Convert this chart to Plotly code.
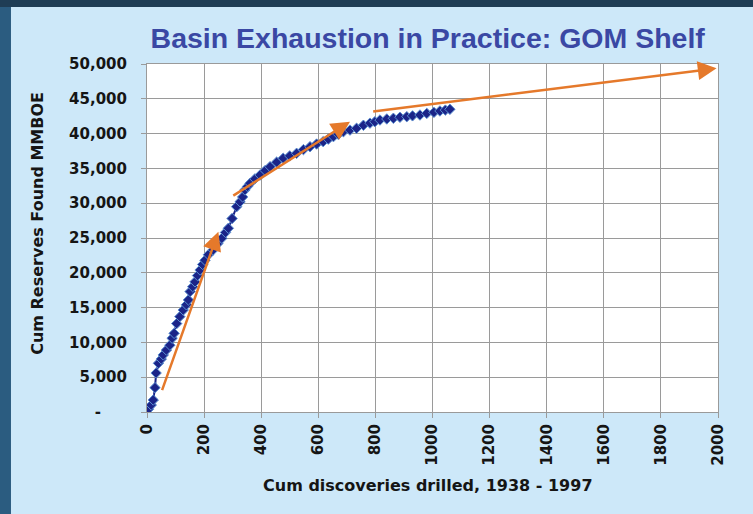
import plotly.graph_objects as go

# Cumulative discoveries drilled vs cumulative reserves found (MMBOE)
cum_wells = [
    5, 15, 22, 28, 32, 40, 50, 57, 68, 80,
    88, 95, 104, 115, 127, 138, 145, 151, 160, 168,
    177, 186, 195, 203, 215, 232, 248, 262, 275, 285,
    298, 314, 326, 335, 343, 352, 361, 378, 396, 414,
    431, 454, 477, 500, 524, 548, 571, 594, 617, 635,
    653, 670, 688, 711, 734, 758, 781, 798, 816, 840,
    863, 886, 910, 930, 956, 980, 1005, 1026, 1045, 1061,
]
cum_reserves = [
    390, 1000, 1720, 3500, 5600, 7000, 7600, 8200, 8900, 9600,
    10600, 11300, 12700, 13700, 14650, 15400, 16100, 17300, 18000, 18700,
    19600, 20400, 21200, 21800, 22600, 23300, 24200, 24950, 25800, 26400,
    27800, 29500, 30200, 30900, 31900, 32400, 32860, 33500, 34050, 34700,
    35250, 35900, 36450, 36800, 37170, 37700, 38120, 38500, 38840, 39200,
    39560, 39900, 40270, 40500, 40760, 41200, 41500, 41700, 41950, 42100,
    42200, 42350, 42430, 42550, 42670, 42900, 43050, 43250, 43380, 43490,
]

# Trend arrows: (start x, start y, end x, end y)
trend_arrows = [
    (51, 2920, 250, 25900),
    (297, 30950, 711, 41710),
    (787, 43150, 1995, 49380),
]

x_ticks = [0, 200, 400, 600, 800, 1000, 1200, 1400, 1600, 1800, 2000]
y_ticks = [0, 5000, 10000, 15000, 20000, 25000, 30000, 35000, 40000, 45000, 50000]
y_tick_text = ["-" + "\u00a0" * 5] + [f"{v:,}" for v in y_ticks[1:]]

BG_COLOR = "#cde8f9"
FRAME_COLOR = "#2b5c80"
ORANGE = "#e5792b"
NAVY = "#1b2488"
GRID = "#9a9a9a"
TICK_FONT = dict(family="DejaVu Sans", size=15, color="#151515", weight="bold")

fig = go.Figure()

fig.add_trace(
    go.Scatter(
        x=cum_wells,
        y=cum_reserves,
        mode="lines+markers",
        line=dict(color=NAVY, width=2),
        marker=dict(
            symbol="diamond",
            size=8,
            color=NAVY,
            line=dict(color="#5b8fd0", width=1),
        ),
        showlegend=False,
    )
)

for x0, y0, x1, y1 in trend_arrows:
    fig.add_annotation(
        x=x1,
        y=y1,
        ax=x0,
        ay=y0,
        xref="x",
        yref="y",
        axref="x",
        ayref="y",
        showarrow=True,
        arrowhead=2,
        arrowsize=1.5,
        arrowwidth=2.5,
        arrowcolor=ORANGE,
        text="",
    )

# Axis titles placed as annotations
fig.add_annotation(
    xref="paper",
    yref="paper",
    x=-0.193,
    y=0.543,
    xanchor="center",
    yanchor="middle",
    text="Cum Reserves Found MMBOE",
    textangle=-90,
    showarrow=False,
    font=dict(family="DejaVu Sans", size=16, color="#151515", weight="bold"),
)
fig.add_annotation(
    xref="paper",
    yref="paper",
    x=0.492,
    y=-0.21,
    xanchor="center",
    yanchor="middle",
    text="Cum discoveries drilled, 1938 - 1997",
    showarrow=False,
    font=dict(family="DejaVu Sans", size=16, color="#151515", weight="bold"),
)

# Dark frame strips on the left and top edges
fig.add_shape(
    type="rect", xref="paper", yref="paper",
    x0=-0.26, x1=-0.2382, y0=-0.3, y1=1.19,
    fillcolor=FRAME_COLOR, line=dict(width=0), layer="below",
)
fig.add_shape(
    type="rect", xref="paper", yref="paper",
    x0=-0.26, x1=1.07, y0=1.1638, y1=1.19,
    fillcolor="#1f3d55", line=dict(width=0), layer="below",
)

fig.update_layout(
    width=753,
    height=514,
    paper_bgcolor=BG_COLOR,
    plot_bgcolor="#ffffff",
    margin=dict(l=147, r=35, t=64, b=102),
    title=dict(
        text="<b>Basin Exhaustion in Practice: GOM Shelf</b>",
        x=0.568,
        y=0.926,
        xanchor="center",
        yanchor="middle",
        font=dict(family="Liberation Sans", size=28.5, color="#3a48a4"),
    ),
    xaxis=dict(
        range=[0, 2000],
        tickvals=x_ticks,
        ticktext=[str(v) for v in x_ticks],
        tickangle=-90,
        tickfont=TICK_FONT,
        ticks="outside",
        ticklen=5,
        tickcolor=GRID,
        showgrid=True,
        gridcolor=GRID,
        gridwidth=1,
        showline=True,
        linecolor=GRID,
        linewidth=1,
        mirror=True,
        zeroline=False,
    ),
    yaxis=dict(
        range=[0, 50000],
        tickvals=y_ticks,
        ticktext=y_tick_text,
        tickfont=TICK_FONT,
        ticks="outside",
        ticklen=5,
        tickcolor=GRID,
        ticklabelstandoff=11,
        showgrid=True,
        gridcolor=GRID,
        gridwidth=1,
        showline=True,
        linecolor=GRID,
        linewidth=1,
        mirror=True,
        zeroline=False,
    ),
)

# drop the default 8px page margin so the figure sits at the window origin
fig.write_html(
    "out.html",
    config={"displayModeBar": False},
    post_script="document.body.style.margin = '0';",
)
